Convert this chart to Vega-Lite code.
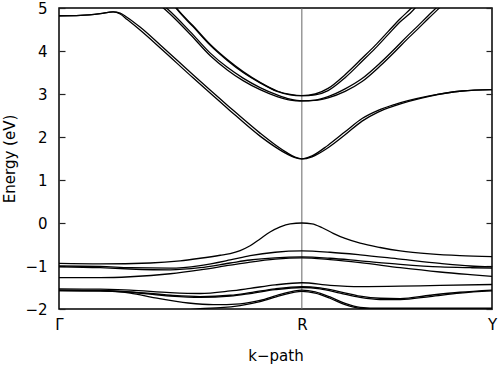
{
  "$schema": "https://vega.github.io/schema/vega-lite/v6.json",
  "width": 433,
  "height": 301,
  "autosize": "none",
  "padding": {"left": 59, "top": 8, "right": 7, "bottom": 59},
  "config": {
    "view": {"stroke": "#000", "strokeWidth": 1.5},
    "font": "DejaVu Sans",
    "axis": {
      "labelFont": "DejaVu Sans", "titleFont": "DejaVu Sans",
      "labelFontSize": 15, "titleFontSize": 15, "titleFontWeight": "normal",
      "labelColor": "#000", "titleColor": "#000", "grid": false, "domain": false,
      "tickColor": "#222", "tickWidth": 1.2, "zindex": 1
    }
  },
  "datasets": {
    "bands": [
      {"band": "cb1a", "k": 0, "E": 4.82}, {"band": "cb1a", "k": 0.088, "E": 4.83}, {"band": "cb1a", "k": 0.17, "E": 4.87}, {"band": "cb1a", "k": 0.223, "E": 4.91}, {"band": "cb1a", "k": 0.252, "E": 4.88}, {"band": "cb1a", "k": 0.281, "E": 4.78}, {"band": "cb1a", "k": 0.335, "E": 4.55}, {"band": "cb1a", "k": 0.417, "E": 4.14}, {"band": "cb1a", "k": 0.553, "E": 3.44}, {"band": "cb1a", "k": 0.693, "E": 2.74}, {"band": "cb1a", "k": 0.828, "E": 2.09}, {"band": "cb1a", "k": 0.89, "E": 1.82}, {"band": "cb1a", "k": 0.94, "E": 1.63}, {"band": "cb1a", "k": 0.972, "E": 1.53}, {"band": "cb1a", "k": 1.0, "E": 1.49}, {"band": "cb1a", "k": 1.042, "E": 1.56}, {"band": "cb1a", "k": 1.108, "E": 1.81}, {"band": "cb1a", "k": 1.178, "E": 2.12}, {"band": "cb1a", "k": 1.248, "E": 2.43}, {"band": "cb1a", "k": 1.314, "E": 2.62}, {"band": "cb1a", "k": 1.384, "E": 2.76}, {"band": "cb1a", "k": 1.52, "E": 2.95}, {"band": "cb1a", "k": 1.66, "E": 3.07}, {"band": "cb1a", "k": 1.783, "E": 3.1},
      {"band": "cb1b", "k": 0, "E": 4.82}, {"band": "cb1b", "k": 0.088, "E": 4.83}, {"band": "cb1b", "k": 0.17, "E": 4.87}, {"band": "cb1b", "k": 0.223, "E": 4.91}, {"band": "cb1b", "k": 0.252, "E": 4.86}, {"band": "cb1b", "k": 0.281, "E": 4.73}, {"band": "cb1b", "k": 0.335, "E": 4.48}, {"band": "cb1b", "k": 0.417, "E": 4.07}, {"band": "cb1b", "k": 0.553, "E": 3.37}, {"band": "cb1b", "k": 0.693, "E": 2.67}, {"band": "cb1b", "k": 0.828, "E": 2.02}, {"band": "cb1b", "k": 0.89, "E": 1.77}, {"band": "cb1b", "k": 0.94, "E": 1.6}, {"band": "cb1b", "k": 0.972, "E": 1.52}, {"band": "cb1b", "k": 1.0, "E": 1.49}, {"band": "cb1b", "k": 1.042, "E": 1.54}, {"band": "cb1b", "k": 1.108, "E": 1.75}, {"band": "cb1b", "k": 1.178, "E": 2.05}, {"band": "cb1b", "k": 1.248, "E": 2.37}, {"band": "cb1b", "k": 1.314, "E": 2.58}, {"band": "cb1b", "k": 1.384, "E": 2.73}, {"band": "cb1b", "k": 1.52, "E": 2.94}, {"band": "cb1b", "k": 1.66, "E": 3.07}, {"band": "cb1b", "k": 1.783, "E": 3.1},
      {"band": "cb2a", "k": 0.458, "E": 5.2}, {"band": "cb2a", "k": 0.487, "E": 4.98}, {"band": "cb2a", "k": 0.553, "E": 4.58}, {"band": "cb2a", "k": 0.623, "E": 4.15}, {"band": "cb2a", "k": 0.693, "E": 3.8}, {"band": "cb2a", "k": 0.758, "E": 3.52}, {"band": "cb2a", "k": 0.828, "E": 3.27}, {"band": "cb2a", "k": 0.898, "E": 3.07}, {"band": "cb2a", "k": 0.952, "E": 2.99}, {"band": "cb2a", "k": 1.0, "E": 2.96}, {"band": "cb2a", "k": 1.055, "E": 3.0}, {"band": "cb2a", "k": 1.108, "E": 3.13}, {"band": "cb2a", "k": 1.178, "E": 3.45}, {"band": "cb2a", "k": 1.248, "E": 3.83}, {"band": "cb2a", "k": 1.302, "E": 4.13}, {"band": "cb2a", "k": 1.355, "E": 4.45}, {"band": "cb2a", "k": 1.405, "E": 4.75}, {"band": "cb2a", "k": 1.446, "E": 4.97}, {"band": "cb2a", "k": 1.487, "E": 5.2},
      {"band": "cb2b", "k": 0.458, "E": 5.18}, {"band": "cb2b", "k": 0.487, "E": 4.96}, {"band": "cb2b", "k": 0.553, "E": 4.56}, {"band": "cb2b", "k": 0.623, "E": 4.13}, {"band": "cb2b", "k": 0.693, "E": 3.78}, {"band": "cb2b", "k": 0.758, "E": 3.5}, {"band": "cb2b", "k": 0.828, "E": 3.26}, {"band": "cb2b", "k": 0.898, "E": 3.06}, {"band": "cb2b", "k": 0.952, "E": 2.98}, {"band": "cb2b", "k": 1.0, "E": 2.96}, {"band": "cb2b", "k": 1.055, "E": 2.98}, {"band": "cb2b", "k": 1.108, "E": 3.08}, {"band": "cb2b", "k": 1.178, "E": 3.38}, {"band": "cb2b", "k": 1.248, "E": 3.76}, {"band": "cb2b", "k": 1.302, "E": 4.06}, {"band": "cb2b", "k": 1.355, "E": 4.38}, {"band": "cb2b", "k": 1.405, "E": 4.68}, {"band": "cb2b", "k": 1.446, "E": 4.88}, {"band": "cb2b", "k": 1.487, "E": 5.12}, {"band": "cb2b", "k": 1.52, "E": 5.3},
      {"band": "cb3a", "k": 0.417, "E": 5.12}, {"band": "cb3a", "k": 0.446, "E": 4.98}, {"band": "cb3a", "k": 0.54, "E": 4.45}, {"band": "cb3a", "k": 0.623, "E": 3.95}, {"band": "cb3a", "k": 0.693, "E": 3.62}, {"band": "cb3a", "k": 0.758, "E": 3.37}, {"band": "cb3a", "k": 0.828, "E": 3.15}, {"band": "cb3a", "k": 0.898, "E": 2.98}, {"band": "cb3a", "k": 0.952, "E": 2.88}, {"band": "cb3a", "k": 1.0, "E": 2.84}, {"band": "cb3a", "k": 1.055, "E": 2.86}, {"band": "cb3a", "k": 1.108, "E": 2.94}, {"band": "cb3a", "k": 1.178, "E": 3.12}, {"band": "cb3a", "k": 1.248, "E": 3.36}, {"band": "cb3a", "k": 1.322, "E": 3.72}, {"band": "cb3a", "k": 1.384, "E": 4.06}, {"band": "cb3a", "k": 1.433, "E": 4.34}, {"band": "cb3a", "k": 1.479, "E": 4.59}, {"band": "cb3a", "k": 1.52, "E": 4.82}, {"band": "cb3a", "k": 1.557, "E": 5.02}, {"band": "cb3a", "k": 1.59, "E": 5.2},
      {"band": "cb3b", "k": 0.417, "E": 5.06}, {"band": "cb3b", "k": 0.446, "E": 4.92}, {"band": "cb3b", "k": 0.54, "E": 4.39}, {"band": "cb3b", "k": 0.623, "E": 3.89}, {"band": "cb3b", "k": 0.693, "E": 3.56}, {"band": "cb3b", "k": 0.758, "E": 3.31}, {"band": "cb3b", "k": 0.828, "E": 3.1}, {"band": "cb3b", "k": 0.898, "E": 2.94}, {"band": "cb3b", "k": 0.952, "E": 2.86}, {"band": "cb3b", "k": 1.0, "E": 2.84}, {"band": "cb3b", "k": 1.055, "E": 2.85}, {"band": "cb3b", "k": 1.108, "E": 2.91}, {"band": "cb3b", "k": 1.178, "E": 3.06}, {"band": "cb3b", "k": 1.248, "E": 3.29}, {"band": "cb3b", "k": 1.322, "E": 3.65}, {"band": "cb3b", "k": 1.384, "E": 3.99}, {"band": "cb3b", "k": 1.433, "E": 4.27}, {"band": "cb3b", "k": 1.479, "E": 4.52}, {"band": "cb3b", "k": 1.52, "E": 4.75}, {"band": "cb3b", "k": 1.557, "E": 4.95}, {"band": "cb3b", "k": 1.59, "E": 5.13},
      {"band": "v1", "k": 0, "E": -0.94}, {"band": "v1", "k": 0.17, "E": -0.95}, {"band": "v1", "k": 0.376, "E": -0.93}, {"band": "v1", "k": 0.499, "E": -0.88}, {"band": "v1", "k": 0.581, "E": -0.82}, {"band": "v1", "k": 0.664, "E": -0.75}, {"band": "v1", "k": 0.705, "E": -0.71}, {"band": "v1", "k": 0.746, "E": -0.64}, {"band": "v1", "k": 0.787, "E": -0.53}, {"band": "v1", "k": 0.828, "E": -0.37}, {"band": "v1", "k": 0.869, "E": -0.21}, {"band": "v1", "k": 0.911, "E": -0.09}, {"band": "v1", "k": 0.952, "E": -0.02}, {"band": "v1", "k": 1.0, "E": 0.0}, {"band": "v1", "k": 1.042, "E": -0.02}, {"band": "v1", "k": 1.084, "E": -0.11}, {"band": "v1", "k": 1.129, "E": -0.24}, {"band": "v1", "k": 1.178, "E": -0.36}, {"band": "v1", "k": 1.24, "E": -0.47}, {"band": "v1", "k": 1.322, "E": -0.57}, {"band": "v1", "k": 1.405, "E": -0.65}, {"band": "v1", "k": 1.528, "E": -0.72}, {"band": "v1", "k": 1.651, "E": -0.76}, {"band": "v1", "k": 1.783, "E": -0.78},
      {"band": "v2", "k": 0, "E": -1.0}, {"band": "v2", "k": 0.17, "E": -1.01}, {"band": "v2", "k": 0.293, "E": -1.04}, {"band": "v2", "k": 0.458, "E": -1.05}, {"band": "v2", "k": 0.581, "E": -0.99}, {"band": "v2", "k": 0.705, "E": -0.86}, {"band": "v2", "k": 0.787, "E": -0.76}, {"band": "v2", "k": 0.89, "E": -0.68}, {"band": "v2", "k": 1.0, "E": -0.65}, {"band": "v2", "k": 1.116, "E": -0.68}, {"band": "v2", "k": 1.24, "E": -0.74}, {"band": "v2", "k": 1.405, "E": -0.84}, {"band": "v2", "k": 1.569, "E": -0.94}, {"band": "v2", "k": 1.693, "E": -1.0}, {"band": "v2", "k": 1.783, "E": -1.02},
      {"band": "v3a", "k": 0, "E": -1.02}, {"band": "v3a", "k": 0.17, "E": -1.04}, {"band": "v3a", "k": 0.293, "E": -1.07}, {"band": "v3a", "k": 0.458, "E": -1.09}, {"band": "v3a", "k": 0.581, "E": -1.04}, {"band": "v3a", "k": 0.705, "E": -0.93}, {"band": "v3a", "k": 0.787, "E": -0.86}, {"band": "v3a", "k": 0.89, "E": -0.81}, {"band": "v3a", "k": 1.0, "E": -0.79}, {"band": "v3a", "k": 1.116, "E": -0.82}, {"band": "v3a", "k": 1.24, "E": -0.88}, {"band": "v3a", "k": 1.405, "E": -0.96}, {"band": "v3a", "k": 1.569, "E": -1.02}, {"band": "v3a", "k": 1.693, "E": -1.04}, {"band": "v3a", "k": 1.783, "E": -1.05},
      {"band": "v3b", "k": 0, "E": -1.27}, {"band": "v3b", "k": 0.17, "E": -1.27}, {"band": "v3b", "k": 0.293, "E": -1.25}, {"band": "v3b", "k": 0.458, "E": -1.18}, {"band": "v3b", "k": 0.581, "E": -1.09}, {"band": "v3b", "k": 0.705, "E": -0.98}, {"band": "v3b", "k": 0.787, "E": -0.91}, {"band": "v3b", "k": 0.89, "E": -0.84}, {"band": "v3b", "k": 1.0, "E": -0.81}, {"band": "v3b", "k": 1.116, "E": -0.85}, {"band": "v3b", "k": 1.24, "E": -0.92}, {"band": "v3b", "k": 1.405, "E": -1.04}, {"band": "v3b", "k": 1.569, "E": -1.14}, {"band": "v3b", "k": 1.693, "E": -1.2}, {"band": "v3b", "k": 1.783, "E": -1.24},
      {"band": "l1", "k": 0, "E": -1.53}, {"band": "l1", "k": 0.17, "E": -1.54}, {"band": "l1", "k": 0.293, "E": -1.56}, {"band": "l1", "k": 0.458, "E": -1.62}, {"band": "l1", "k": 0.581, "E": -1.64}, {"band": "l1", "k": 0.705, "E": -1.58}, {"band": "l1", "k": 0.787, "E": -1.52}, {"band": "l1", "k": 0.89, "E": -1.44}, {"band": "l1", "k": 1.0, "E": -1.39}, {"band": "l1", "k": 1.116, "E": -1.45}, {"band": "l1", "k": 1.24, "E": -1.48}, {"band": "l1", "k": 1.405, "E": -1.47}, {"band": "l1", "k": 1.569, "E": -1.45}, {"band": "l1", "k": 1.783, "E": -1.43},
      {"band": "l2", "k": 0, "E": -1.56}, {"band": "l2", "k": 0.17, "E": -1.57}, {"band": "l2", "k": 0.293, "E": -1.6}, {"band": "l2", "k": 0.458, "E": -1.68}, {"band": "l2", "k": 0.581, "E": -1.71}, {"band": "l2", "k": 0.705, "E": -1.68}, {"band": "l2", "k": 0.787, "E": -1.62}, {"band": "l2", "k": 0.89, "E": -1.53}, {"band": "l2", "k": 1.0, "E": -1.48}, {"band": "l2", "k": 1.075, "E": -1.51}, {"band": "l2", "k": 1.158, "E": -1.6}, {"band": "l2", "k": 1.24, "E": -1.7}, {"band": "l2", "k": 1.322, "E": -1.75}, {"band": "l2", "k": 1.405, "E": -1.76}, {"band": "l2", "k": 1.528, "E": -1.68}, {"band": "l2", "k": 1.651, "E": -1.61}, {"band": "l2", "k": 1.783, "E": -1.56},
      {"band": "l3", "k": 0, "E": -1.57}, {"band": "l3", "k": 0.17, "E": -1.58}, {"band": "l3", "k": 0.293, "E": -1.61}, {"band": "l3", "k": 0.458, "E": -1.7}, {"band": "l3", "k": 0.581, "E": -1.73}, {"band": "l3", "k": 0.705, "E": -1.7}, {"band": "l3", "k": 0.787, "E": -1.64}, {"band": "l3", "k": 0.89, "E": -1.55}, {"band": "l3", "k": 1.0, "E": -1.5}, {"band": "l3", "k": 1.075, "E": -1.53}, {"band": "l3", "k": 1.158, "E": -1.63}, {"band": "l3", "k": 1.24, "E": -1.73}, {"band": "l3", "k": 1.322, "E": -1.78}, {"band": "l3", "k": 1.405, "E": -1.78}, {"band": "l3", "k": 1.528, "E": -1.71}, {"band": "l3", "k": 1.651, "E": -1.63}, {"band": "l3", "k": 1.783, "E": -1.58},
      {"band": "l4", "k": 0, "E": -1.57}, {"band": "l4", "k": 0.17, "E": -1.58}, {"band": "l4", "k": 0.293, "E": -1.63}, {"band": "l4", "k": 0.396, "E": -1.74}, {"band": "l4", "k": 0.532, "E": -1.86}, {"band": "l4", "k": 0.635, "E": -1.9}, {"band": "l4", "k": 0.746, "E": -1.88}, {"band": "l4", "k": 0.828, "E": -1.8}, {"band": "l4", "k": 0.911, "E": -1.66}, {"band": "l4", "k": 1.0, "E": -1.56}, {"band": "l4", "k": 1.055, "E": -1.6}, {"band": "l4", "k": 1.116, "E": -1.72}, {"band": "l4", "k": 1.178, "E": -1.87}, {"band": "l4", "k": 1.24, "E": -1.96}, {"band": "l4", "k": 1.322, "E": -1.98}, {"band": "l4", "k": 1.528, "E": -1.98}, {"band": "l4", "k": 1.783, "E": -1.98},
      {"band": "l5", "k": 0.499, "E": -2.05}, {"band": "l5", "k": 0.581, "E": -1.99}, {"band": "l5", "k": 0.664, "E": -1.97}, {"band": "l5", "k": 0.746, "E": -1.92}, {"band": "l5", "k": 0.828, "E": -1.83}, {"band": "l5", "k": 0.911, "E": -1.69}, {"band": "l5", "k": 1.0, "E": -1.59}, {"band": "l5", "k": 1.055, "E": -1.63}, {"band": "l5", "k": 1.116, "E": -1.75}, {"band": "l5", "k": 1.178, "E": -1.9}, {"band": "l5", "k": 1.24, "E": -1.985}, {"band": "l5", "k": 1.322, "E": -2.0}, {"band": "l5", "k": 1.783, "E": -2.0}
    ]
  },
  "layer": [
    {
      "data": {"values": [{"k": 1}]},
      "mark": {"type": "rule", "color": "#666", "strokeWidth": 1},
      "encoding": {"x": {"field": "k", "type": "quantitative"}}
    },
    {
      "data": {"name": "bands"},
      "mark": {"type": "line", "clip": true, "interpolate": "monotone", "color": "#000", "strokeWidth": 1.3},
      "encoding": {
        "x": {"field": "k", "type": "quantitative", "scale": {"domain": [0, 1.783], "nice": false, "zero": false},
              "axis": {"values": [0, 1, 1.783], "labelExpr": "datum.value == 0 ? 'Γ' : datum.value == 1 ? 'R' : 'Y'", "ticks": false, "labelPadding": 8, "title": "k−path", "titlePadding": 16, "labelFlush": false}},
        "y": {"field": "E", "type": "quantitative", "scale": {"domain": [-2, 5], "nice": false, "zero": false},
              "axis": {"orient": "left", "values": [-2, -1, 0, 1, 2, 3, 4, 5], "format": "d", "offset": -6, "ticks": true, "tickSize": 6, "labelPadding": 12, "title": "Energy (eV)", "titlePadding": 7}},
        "detail": {"field": "band"}
      }
    },
    {
      "data": {"name": "bands"},
      "mark": {"type": "line", "opacity": 0},
      "encoding": {
        "x": {"field": "k", "type": "quantitative"},
        "y": {"field": "E", "type": "quantitative",
              "axis": {"orient": "right", "values": [-2, -1, 0, 1, 2, 3, 4, 5], "labels": false, "offset": -6, "ticks": true, "tickSize": 6, "title": null}},
        "detail": {"field": "band"}
      }
    }
  ],
  "resolve": {"axis": {"y": "independent"}}
}
